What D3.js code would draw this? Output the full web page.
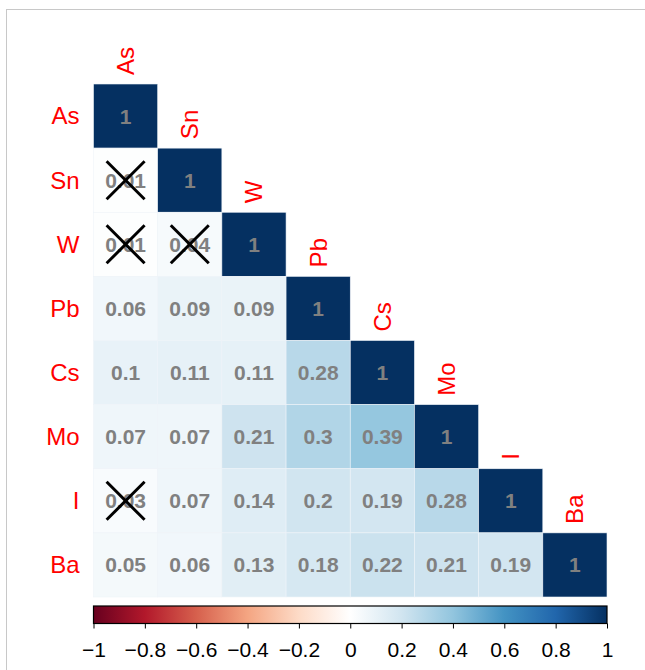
<!DOCTYPE html>
<html>
<head>
<meta charset="utf-8">
<script src="https://cdn.jsdelivr.net/npm/d3@7"></script>
<style>
  html, body { margin: 0; padding: 0; background: #fff; }
  svg { display: block; }
</style>
</head>
<body>
<svg id="chart" width="645" height="670"></svg>
<script>
// Variables, in plot order
const variables = ["As", "Sn", "W", "Pb", "Cs", "Mo", "I", "Ba"];

// Lower-triangle correlations, one row per variable (diagonal included)
const corrRows = [
  [1],
  [0.01, 1],
  [0.01, 0.04, 1],
  [0.06, 0.09, 0.09, 1],
  [0.1, 0.11, 0.11, 0.28, 1],
  [0.07, 0.07, 0.21, 0.3, 0.39, 1],
  [0.03, 0.07, 0.14, 0.2, 0.19, 0.28, 1],
  [0.05, 0.06, 0.13, 0.18, 0.22, 0.21, 0.19, 1]
];

// Pairs that are not significant (row, column) – drawn with a cross
const insignificant = [[1, 0], [2, 0], [2, 1], [6, 0]];

// Colour legend ticks
const legendTicks = [-1, -0.8, -0.6, -0.4, -0.2, 0, 0.2, 0.4, 0.6, 0.8, 1];

// Diverging red-blue palette
const paletteStops = ["#67001F", "#B2182B", "#D6604D", "#F4A582", "#FDDBC7",
  "#FFFFFF", "#D1E5F0", "#92C5DE", "#4393C3", "#2166AC", "#053061"];

const svg = d3.select("#chart");

// outer frame
svg.append("rect")
  .attr("x", 6.5).attr("y", 9.5)
  .attr("width", 700).attr("height", 700)
  .attr("fill", "none").attr("stroke", "#c8c8c8").attr("stroke-width", 1);

const gridLeft = 93.5, gridTop = 84, gridSize = 513.5;

const x = d3.scaleBand().domain(variables).range([gridLeft, gridLeft + gridSize]);
const y = d3.scaleBand().domain(variables).range([gridTop, gridTop + 513]);

const color = d3.scaleLinear()
  .domain(d3.range(paletteStops.length).map(i => -1 + 2 * i / (paletteStops.length - 1)))
  .range(paletteStops)
  .interpolate(d3.interpolateRgb);

const cells = [];
corrRows.forEach((row, i) => row.forEach((v, j) => cells.push({ i, j, v })));

const g = svg.append("g");

g.selectAll("rect.cell").data(cells).enter().append("rect")
  .attr("class", "cell")
  .attr("x", d => x(variables[d.j]))
  .attr("y", d => y(variables[d.i]))
  .attr("width", x.bandwidth())
  .attr("height", y.bandwidth())
  .attr("fill", d => color(d.v))
  .attr("stroke", "#eef3f8")
  .attr("stroke-width", 0.6);

g.selectAll("text.val").data(cells).enter().append("text")
  .attr("class", "val")
  .attr("x", d => x(variables[d.j]) + x.bandwidth() / 2)
  .attr("y", d => y(variables[d.i]) + y.bandwidth() / 2)
  .attr("dy", "0.36em")
  .attr("text-anchor", "middle")
  .attr("font-family", "Liberation Sans, Arial, sans-serif")
  .attr("font-weight", "bold")
  .attr("font-size", 21)
  .attr("fill", "#808080")
  .text(d => d.v === 1 ? "1" : String(d.v));

// crosses on non-significant pairs
const half = 19;
insignificant.forEach(([i, j]) => {
  const cx = x(variables[j]) + x.bandwidth() / 2;
  const cy = y(variables[i]) + y.bandwidth() / 2;
  [[-1, -1, 1, 1], [-1, 1, 1, -1]].forEach(([a, b, c, d]) => {
    g.append("line")
      .attr("x1", cx + a * half).attr("y1", cy + b * half)
      .attr("x2", cx + c * half).attr("y2", cy + d * half)
      .attr("stroke", "#000").attr("stroke-width", 3);
  });
});

// row labels
svg.selectAll("text.rowlab").data(variables).enter().append("text")
  .attr("class", "rowlab")
  .attr("x", gridLeft - 14)
  .attr("y", d => y(d) + y.bandwidth() / 2)
  .attr("dy", "0.35em")
  .attr("text-anchor", "end")
  .attr("font-family", "Liberation Sans, Arial, sans-serif")
  .attr("font-size", 24)
  .attr("fill", "#ff0000")
  .text(d => d);

// column labels, rotated, sitting above each diagonal cell
svg.selectAll("text.collab").data(variables).enter().append("text")
  .attr("class", "collab")
  .attr("transform", d => `translate(${x(d) + x.bandwidth() / 2},${y(d) - 9}) rotate(-90)`)
  .attr("dy", "0.35em")
  .attr("text-anchor", "start")
  .attr("font-family", "Liberation Sans, Arial, sans-serif")
  .attr("font-size", 24)
  .attr("fill", "#ff0000")
  .text(d => d);

// colour legend
const legTop = 606, legHeight = 17.5;
const lx = d3.scaleLinear().domain([-1, 1]).range([gridLeft, gridLeft + gridSize]);

const defs = svg.append("defs");
const grad = defs.append("linearGradient").attr("id", "corrGrad")
  .attr("x1", "0%").attr("x2", "100%").attr("y1", "0%").attr("y2", "0%");
paletteStops.forEach((c, k) => {
  grad.append("stop")
    .attr("offset", (100 * k / (paletteStops.length - 1)) + "%")
    .attr("stop-color", c);
});

svg.append("rect")
  .attr("x", lx(-1)).attr("y", legTop)
  .attr("width", lx(1) - lx(-1)).attr("height", legHeight)
  .attr("fill", "url(#corrGrad)")
  .attr("stroke", "#000").attr("stroke-width", 1.2);

const legendAxis = d3.axisBottom(lx)
  .tickValues(legendTicks)
  .tickSize(5)
  .tickPadding(14)
  .tickFormat(d => d === 0 ? "0" : d3.format("")(+d.toFixed(1)).replace("-", "\u2212"));

const ax = svg.append("g")
  .attr("transform", `translate(0,${legTop + legHeight})`)
  .call(legendAxis);
ax.select(".domain").remove();
ax.selectAll(".tick line").attr("stroke", "#000").attr("stroke-width", 1);
ax.selectAll(".tick text")
  .attr("font-family", "Liberation Sans, Arial, sans-serif")
  .attr("font-size", 21)
  .attr("fill", "#000");
</script>
</body>
</html>
